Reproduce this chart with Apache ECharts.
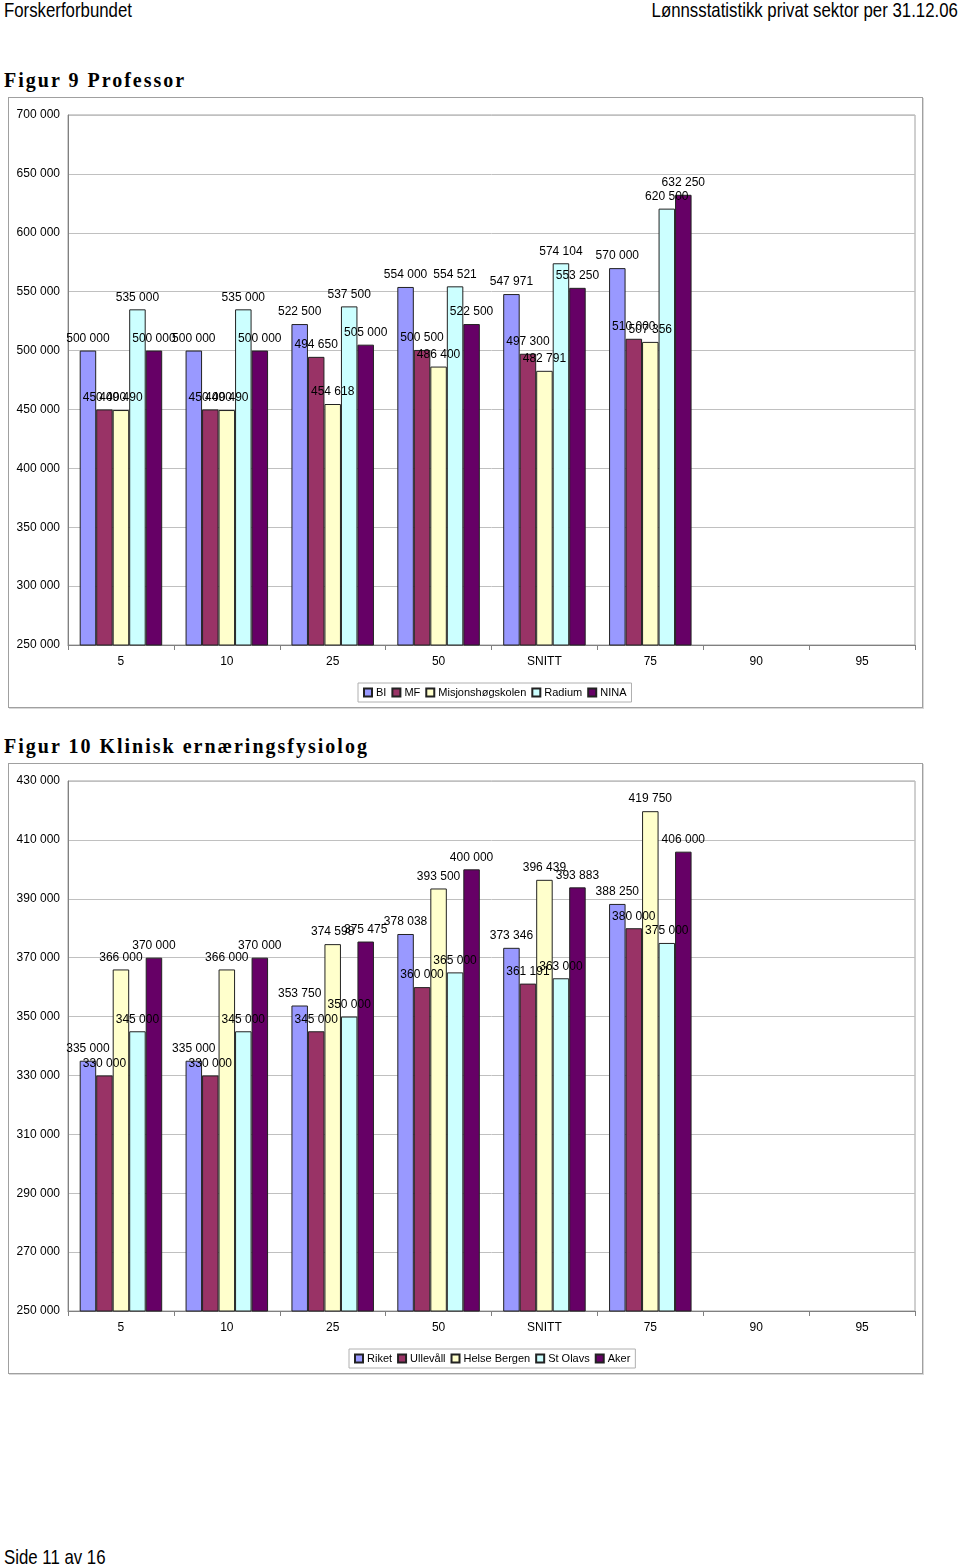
<!DOCTYPE html>
<html>
<head>
<meta charset="utf-8">
<script src="https://cdn.jsdelivr.net/npm/echarts@6/dist/echarts.min.js"></script>
<style>
  body { margin: 0; background: #fff; width: 960px; height: 1567px; position: relative; overflow: hidden; }
  .hdr { position: absolute; top: -2px; font-family: "Liberation Sans", Arial, sans-serif; font-size: 21px; color: #000; white-space: nowrap; transform: scaleX(0.8); transform-origin: left top; }
  .fig { position: absolute; left: 4px; font-family: "Liberation Serif", serif; font-weight: bold; font-size: 20px; letter-spacing: 2px; color: #000; white-space: nowrap; }
  .box { position: absolute; left: 8px; width: 913px; height: 609px; border: 1px solid #a0a0a0; box-shadow: 1px 1px 0 #d8d8d8; }
  .chart { position: absolute; left: 0; top: 0; width: 913px; height: 609px; }
</style>
</head>
<body>
<div class="hdr" style="left:4px">Forskerforbundet</div>
<div class="hdr" style="right:2px; transform-origin: right top">Lønnsstatistikk privat sektor per 31.12.06</div>

<div class="fig" style="top:69px">Figur 9 Professor</div>
<div class="box" style="top:97px"><div class="chart" id="c1"></div></div>

<div class="fig" style="top:735px">Figur 10 Klinisk ernæringsfysiolog</div>
<div class="box" style="top:763px"><div class="chart" id="c2"></div></div>

<div class="hdr" style="left:4px; top:1545px">Side 11 av 16</div>

<script>
// kategorier (persentiler)
const categories = ['5', '10', '25', '50', 'SNITT', '75', '90', '95'];

// Figur 9 Professor
const names1 = ['BI', 'MF', 'Misjonshøgskolen', 'Radium', 'NINA'];
const bi = [500000, 500000, 522500, 554000, 547971, 570000, null, null];
const mf = [450000, 450000, 494650, 500500, 497300, 510000, null, null];
const misjon = [449490, 449490, 454618, 486400, 482791, 507356, null, null];
const radium = [535000, 535000, 537500, 554521, 574104, 620500, null, null];
const nina = [500000, 500000, 505000, 522500, 553250, 632250, null, null];

// Figur 10 Klinisk ernæringsfysiolog
const names2 = ['Riket', 'Ullevåll', 'Helse Bergen', 'St Olavs', 'Aker'];
const riket = [335000, 335000, 353750, 378038, 373346, 388250, null, null];
const ulleval = [330000, 330000, 345000, 360000, 361191, 380000, null, null];
const helseBergen = [366000, 366000, 374598, 393500, 396439, 419750, null, null];
const stOlavs = [345000, 345000, 350000, 365000, 363000, 375000, null, null];
const aker = [370000, 370000, 375475, 400000, 393883, 406000, null, null];

const colors = ['#9999ff', '#993366', '#ffffcc', '#ccffff', '#660066'];

function fmt(v) {
  return String(v).replace(/\B(?=(\d{3})+(?!\d))/g, ' ');
}

function makeSeries(names, lists) {
  return names.map((n, i) => ({
    name: n,
    type: 'bar',
    data: lists[i],
    barWidth: 16.5,
    barGap: '0%',
    itemStyle: { color: colors[i], borderColor: '#222', borderWidth: 1 },
    label: {
      show: true, position: 'top', distance: 6,
      color: '#000', fontSize: 12, fontFamily: 'Liberation Sans, Arial, sans-serif',
      formatter: (p) => fmt(p.value)
    },
    emphasis: { disabled: true },
    animation: false
  }));
}

function makeOption(names, lists, yMin, yMax, yInt, labelStep, legendLeft) {
  return {
    animation: false,
    textStyle: { fontFamily: 'Liberation Sans, Arial, sans-serif' },
    grid: { left: 59, top: 17, right: 7, bottom: 62, show: true, borderColor: '#a0a0a0', borderWidth: 1 },
    legend: {
      data: names, left: legendLeft, top: 585,
      icon: 'rect', itemWidth: 8, itemHeight: 8, itemGap: 5,
      borderColor: '#b0b0b0', borderWidth: 1, padding: [4, 5],
      textStyle: { fontSize: 11, color: '#000', padding: [0, 0, 0, -1] }
    },
    xAxis: {
      type: 'category', data: categories,
      axisLine: { lineStyle: { color: '#808080' } },
      axisTick: { show: true, length: 5, lineStyle: { color: '#808080' } },
      axisLabel: { color: '#000', fontSize: 12, margin: 11 }
    },
    yAxis: {
      type: 'value', min: yMin, max: yMax, interval: yInt,
      axisLine: { show: true, lineStyle: { color: '#808080' } },
      axisTick: { show: false },
      axisLabel: {
        color: '#000', fontSize: 12, margin: 8,
        formatter: (v) => ((v - yMin) % labelStep === 0 ? fmt(v) : '')
      },
      splitLine: {
        show: true,
        lineStyle: { color: labelStep === yInt ? ['#c0c0c0'] : ['#c0c0c0', 'rgba(0,0,0,0)'] }
      }
    },
    series: makeSeries(names, lists)
  };
}

const chart1 = echarts.init(document.getElementById('c1'));
chart1.setOption(makeOption(names1, [bi, mf, misjon, radium, nina], 250000, 700000, 50000, 50000, 349));

const chart2 = echarts.init(document.getElementById('c2'));
chart2.setOption(makeOption(names2, [riket, ulleval, helseBergen, stOlavs, aker], 250000, 430000, 10000, 20000, 340));
</script>
</body>
</html>
